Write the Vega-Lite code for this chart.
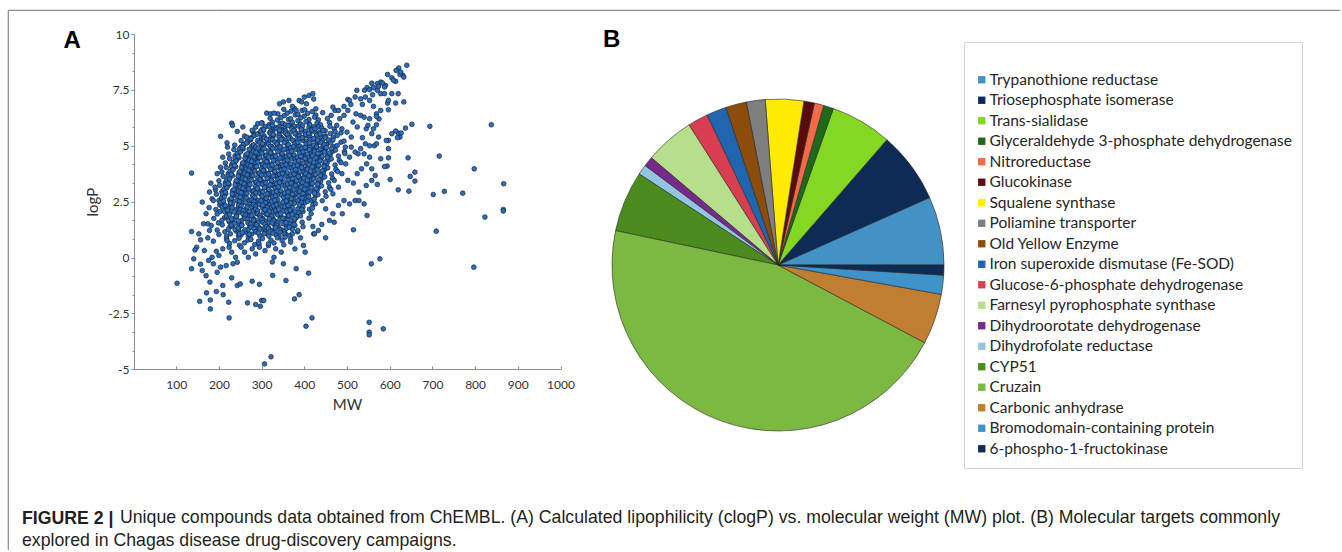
{
 "$schema": "https://vega.github.io/schema/vega-lite/v6.json",
 "padding": {"left": 7, "top": 9, "right": 0, "bottom": 0},
 "background": "white",
 "bounds": "flush",
 "spacing": 0,
 "title": {"text": "FIGURE 2 |", "subtitle": "explored in Chagas disease drug-discovery campaigns.", "orient": "bottom", "anchor": "start", "frame": "group", "offset": -27, "dx": 14, "font": "Liberation Sans", "fontSize": 17.7, "fontWeight": "bold", "color": "#231f20", "subtitleFont": "Liberation Sans", "subtitleFontSize": 17.7, "subtitleFontWeight": "normal", "subtitleColor": "#231f20", "subtitlePadding": 4.3, "baseline": "alphabetic", "limit": 1310},
 "config": {"view": {"stroke": null}, "font": "Lato"},
 "hconcat": [
  {
   "width": 208, "height": 540,
   "view": {"stroke": "#8a8a8a", "strokeWidth": 1.2, "strokeDash": [208, 748, 540]},
   "title": {"text": "Unique compounds data obtained from ChEMBL. (A) Calculated lipophilicity (clogP) vs. molecular weight (MW) plot. (B) Molecular targets commonly", "orient": "bottom", "anchor": "start", "frame": "group", "offset": -27, "dx": 112, "font": "Liberation Sans", "fontSize": 17.7, "fontWeight": "normal", "color": "#231f20", "baseline": "alphabetic", "limit": 1300},
   "data": {"values": [
{"MW":352,"logP":6.63},{"MW":369,"logP":6.55},{"MW":377,"logP":6.66},{"MW":395,"logP":6.58},{"MW":401,"logP":6.61},{"MW":419,"logP":6.53},{"MW":427,"logP":6.65},
{"MW":338,"logP":6.43},{"MW":353,"logP":6.35},{"MW":360,"logP":6.46},{"MW":379,"logP":6.38},{"MW":385,"logP":6.41},{"MW":400,"logP":6.33},{"MW":408,"logP":6.45},{"MW":427,"logP":6.37},{"MW":443,"logP":6.48},
{"MW":320,"logP":6.23},{"MW":337,"logP":6.15},{"MW":345,"logP":6.26},{"MW":363,"logP":6.18},{"MW":368,"logP":6.21},{"MW":385,"logP":6.13},{"MW":392,"logP":6.25},{"MW":411,"logP":6.17},{"MW":424,"logP":6.28},{"MW":433,"logP":6.16},{"MW":454,"logP":6.22},
{"MW":301,"logP":6.03},{"MW":318,"logP":5.95},{"MW":325,"logP":6.06},{"MW":344,"logP":5.98},{"MW":349,"logP":6.01},{"MW":365,"logP":5.93},{"MW":372,"logP":6.05},{"MW":391,"logP":5.97},{"MW":404,"logP":6.08},{"MW":412,"logP":5.96},{"MW":430,"logP":6.02},{"MW":438,"logP":5.94},{"MW":459,"logP":6.04},
{"MW":286,"logP":5.83},{"MW":302,"logP":5.75},{"MW":309,"logP":5.86},{"MW":327,"logP":5.78},{"MW":332,"logP":5.81},{"MW":348,"logP":5.73},{"MW":355,"logP":5.85},{"MW":373,"logP":5.77},{"MW":386,"logP":5.88},{"MW":394,"logP":5.76},{"MW":411,"logP":5.82},{"MW":417,"logP":5.74},{"MW":432,"logP":5.84},{"MW":441,"logP":5.79},{"MW":460,"logP":5.87},{"MW":470,"logP":5.75},
{"MW":280,"logP":5.63},{"MW":293,"logP":5.55},{"MW":303,"logP":5.66},{"MW":319,"logP":5.58},{"MW":326,"logP":5.61},{"MW":341,"logP":5.53},{"MW":351,"logP":5.65},{"MW":365,"logP":5.57},{"MW":377,"logP":5.68},{"MW":388,"logP":5.56},{"MW":401,"logP":5.62},{"MW":413,"logP":5.54},{"MW":424,"logP":5.64},{"MW":435,"logP":5.59},{"MW":449,"logP":5.67},{"MW":461,"logP":5.55},{"MW":472,"logP":5.63},{"MW":486,"logP":5.58},
{"MW":260,"logP":5.43},{"MW":275,"logP":5.35},{"MW":282,"logP":5.46},{"MW":300,"logP":5.38},{"MW":305,"logP":5.41},{"MW":321,"logP":5.33},{"MW":328,"logP":5.45},{"MW":346,"logP":5.37},{"MW":359,"logP":5.48},{"MW":367,"logP":5.36},{"MW":384,"logP":5.42},{"MW":390,"logP":5.34},{"MW":405,"logP":5.44},{"MW":413,"logP":5.39},{"MW":430,"logP":5.47},{"MW":440,"logP":5.35},{"MW":450,"logP":5.43},{"MW":468,"logP":5.38},{"MW":477,"logP":5.46},
{"MW":252,"logP":5.23},{"MW":267,"logP":5.15},{"MW":274,"logP":5.26},{"MW":292,"logP":5.18},{"MW":297,"logP":5.21},{"MW":313,"logP":5.13},{"MW":320,"logP":5.25},{"MW":338,"logP":5.17},{"MW":351,"logP":5.28},{"MW":359,"logP":5.16},{"MW":376,"logP":5.22},{"MW":382,"logP":5.14},{"MW":397,"logP":5.24},{"MW":405,"logP":5.19},{"MW":422,"logP":5.27},{"MW":432,"logP":5.15},{"MW":442,"logP":5.23},{"MW":459,"logP":5.18},{"MW":467,"logP":5.26},{"MW":486,"logP":5.16},{"MW":493,"logP":5.21},
{"MW":237,"logP":5.03},{"MW":252,"logP":4.95},{"MW":259,"logP":5.06},{"MW":277,"logP":4.98},{"MW":282,"logP":5.01},{"MW":298,"logP":4.93},{"MW":305,"logP":5.05},{"MW":323,"logP":4.97},{"MW":336,"logP":5.08},{"MW":344,"logP":4.96},{"MW":361,"logP":5.02},{"MW":367,"logP":4.94},{"MW":382,"logP":5.04},{"MW":390,"logP":4.99},{"MW":407,"logP":5.07},{"MW":417,"logP":4.95},{"MW":427,"logP":5.03},{"MW":444,"logP":4.98},{"MW":452,"logP":5.06},{"MW":470,"logP":4.96},{"MW":477,"logP":5.01},{"MW":496,"logP":4.94},
{"MW":235,"logP":4.83},{"MW":250,"logP":4.75},{"MW":257,"logP":4.86},{"MW":275,"logP":4.78},{"MW":280,"logP":4.81},{"MW":296,"logP":4.73},{"MW":303,"logP":4.85},{"MW":321,"logP":4.77},{"MW":334,"logP":4.88},{"MW":342,"logP":4.76},{"MW":359,"logP":4.82},{"MW":365,"logP":4.74},{"MW":380,"logP":4.84},{"MW":388,"logP":4.79},{"MW":405,"logP":4.87},{"MW":415,"logP":4.75},{"MW":425,"logP":4.83},{"MW":442,"logP":4.78},{"MW":450,"logP":4.86},{"MW":467,"logP":4.76},{"MW":473,"logP":4.81},{"MW":494,"logP":4.74},
{"MW":223,"logP":4.63},{"MW":238,"logP":4.55},{"MW":245,"logP":4.66},{"MW":263,"logP":4.58},{"MW":268,"logP":4.61},{"MW":284,"logP":4.53},{"MW":291,"logP":4.65},{"MW":309,"logP":4.57},{"MW":322,"logP":4.68},{"MW":330,"logP":4.56},{"MW":347,"logP":4.62},{"MW":353,"logP":4.54},{"MW":368,"logP":4.64},{"MW":376,"logP":4.59},{"MW":393,"logP":4.67},{"MW":403,"logP":4.55},{"MW":413,"logP":4.63},{"MW":430,"logP":4.58},{"MW":438,"logP":4.66},{"MW":455,"logP":4.56},{"MW":461,"logP":4.61},{"MW":480,"logP":4.54},{"MW":495,"logP":4.65},
{"MW":225,"logP":4.43},{"MW":240,"logP":4.35},{"MW":247,"logP":4.46},{"MW":265,"logP":4.38},{"MW":270,"logP":4.41},{"MW":286,"logP":4.33},{"MW":293,"logP":4.45},{"MW":311,"logP":4.37},{"MW":324,"logP":4.48},{"MW":332,"logP":4.36},{"MW":349,"logP":4.42},{"MW":355,"logP":4.34},{"MW":370,"logP":4.44},{"MW":378,"logP":4.39},{"MW":395,"logP":4.47},{"MW":405,"logP":4.35},{"MW":415,"logP":4.43},{"MW":432,"logP":4.38},{"MW":440,"logP":4.46},{"MW":457,"logP":4.36},{"MW":463,"logP":4.41},{"MW":482,"logP":4.34},
{"MW":215,"logP":4.23},{"MW":230,"logP":4.15},{"MW":237,"logP":4.26},{"MW":255,"logP":4.18},{"MW":260,"logP":4.21},{"MW":276,"logP":4.13},{"MW":283,"logP":4.25},{"MW":301,"logP":4.17},{"MW":314,"logP":4.28},{"MW":322,"logP":4.16},{"MW":339,"logP":4.22},{"MW":345,"logP":4.14},{"MW":360,"logP":4.24},{"MW":368,"logP":4.19},{"MW":385,"logP":4.27},{"MW":395,"logP":4.15},{"MW":405,"logP":4.23},{"MW":422,"logP":4.18},{"MW":430,"logP":4.26},{"MW":447,"logP":4.16},{"MW":453,"logP":4.21},{"MW":472,"logP":4.14},{"MW":486,"logP":4.25},
{"MW":217,"logP":4.03},{"MW":232,"logP":3.95},{"MW":239,"logP":4.06},{"MW":257,"logP":3.98},{"MW":262,"logP":4.01},{"MW":278,"logP":3.93},{"MW":285,"logP":4.05},{"MW":303,"logP":3.97},{"MW":316,"logP":4.08},{"MW":324,"logP":3.96},{"MW":341,"logP":4.02},{"MW":347,"logP":3.94},{"MW":362,"logP":4.04},{"MW":370,"logP":3.99},{"MW":387,"logP":4.07},{"MW":397,"logP":3.95},{"MW":407,"logP":4.03},{"MW":424,"logP":3.98},{"MW":432,"logP":4.06},{"MW":449,"logP":3.96},{"MW":455,"logP":4.01},{"MW":474,"logP":3.94},
{"MW":207,"logP":3.83},{"MW":222,"logP":3.75},{"MW":229,"logP":3.86},{"MW":247,"logP":3.78},{"MW":252,"logP":3.81},{"MW":268,"logP":3.73},{"MW":275,"logP":3.85},{"MW":293,"logP":3.77},{"MW":306,"logP":3.88},{"MW":314,"logP":3.76},{"MW":331,"logP":3.82},{"MW":337,"logP":3.74},{"MW":352,"logP":3.84},{"MW":360,"logP":3.79},{"MW":377,"logP":3.87},{"MW":387,"logP":3.75},{"MW":397,"logP":3.83},{"MW":414,"logP":3.78},{"MW":422,"logP":3.86},{"MW":439,"logP":3.76},{"MW":445,"logP":3.81},{"MW":464,"logP":3.74},{"MW":478,"logP":3.85},
{"MW":210,"logP":3.63},{"MW":225,"logP":3.55},{"MW":232,"logP":3.66},{"MW":250,"logP":3.58},{"MW":255,"logP":3.61},{"MW":271,"logP":3.53},{"MW":278,"logP":3.65},{"MW":296,"logP":3.57},{"MW":309,"logP":3.68},{"MW":317,"logP":3.56},{"MW":334,"logP":3.62},{"MW":340,"logP":3.54},{"MW":355,"logP":3.64},{"MW":363,"logP":3.59},{"MW":380,"logP":3.67},{"MW":390,"logP":3.55},{"MW":400,"logP":3.63},{"MW":417,"logP":3.58},{"MW":425,"logP":3.66},{"MW":442,"logP":3.56},{"MW":448,"logP":3.61},{"MW":466,"logP":3.54},
{"MW":200,"logP":3.43},{"MW":215,"logP":3.35},{"MW":222,"logP":3.46},{"MW":240,"logP":3.38},{"MW":245,"logP":3.41},{"MW":261,"logP":3.33},{"MW":268,"logP":3.45},{"MW":286,"logP":3.37},{"MW":299,"logP":3.48},{"MW":307,"logP":3.36},{"MW":324,"logP":3.42},{"MW":330,"logP":3.34},{"MW":345,"logP":3.44},{"MW":353,"logP":3.39},{"MW":370,"logP":3.47},{"MW":380,"logP":3.35},{"MW":390,"logP":3.43},{"MW":407,"logP":3.38},{"MW":415,"logP":3.46},{"MW":432,"logP":3.36},{"MW":438,"logP":3.41},{"MW":457,"logP":3.34},{"MW":470,"logP":3.45},
{"MW":202,"logP":3.23},{"MW":217,"logP":3.15},{"MW":224,"logP":3.26},{"MW":242,"logP":3.18},{"MW":247,"logP":3.21},{"MW":263,"logP":3.13},{"MW":270,"logP":3.25},{"MW":288,"logP":3.17},{"MW":301,"logP":3.28},{"MW":309,"logP":3.16},{"MW":326,"logP":3.22},{"MW":332,"logP":3.14},{"MW":347,"logP":3.24},{"MW":355,"logP":3.19},{"MW":372,"logP":3.27},{"MW":382,"logP":3.15},{"MW":392,"logP":3.23},{"MW":409,"logP":3.18},{"MW":417,"logP":3.26},{"MW":434,"logP":3.16},{"MW":440,"logP":3.21},{"MW":459,"logP":3.14},
{"MW":192,"logP":3.03},{"MW":207,"logP":2.95},{"MW":214,"logP":3.06},{"MW":232,"logP":2.98},{"MW":237,"logP":3.01},{"MW":253,"logP":2.93},{"MW":260,"logP":3.05},{"MW":278,"logP":2.97},{"MW":291,"logP":3.08},{"MW":299,"logP":2.96},{"MW":316,"logP":3.02},{"MW":322,"logP":2.94},{"MW":337,"logP":3.04},{"MW":345,"logP":2.99},{"MW":362,"logP":3.07},{"MW":372,"logP":2.95},{"MW":382,"logP":3.03},{"MW":399,"logP":2.98},{"MW":407,"logP":3.06},{"MW":424,"logP":2.96},{"MW":430,"logP":3.01},{"MW":449,"logP":2.94},{"MW":462,"logP":3.05},
{"MW":194,"logP":2.83},{"MW":209,"logP":2.75},{"MW":216,"logP":2.86},{"MW":234,"logP":2.78},{"MW":239,"logP":2.81},{"MW":255,"logP":2.73},{"MW":262,"logP":2.85},{"MW":280,"logP":2.77},{"MW":293,"logP":2.88},{"MW":301,"logP":2.76},{"MW":318,"logP":2.82},{"MW":324,"logP":2.74},{"MW":339,"logP":2.84},{"MW":347,"logP":2.79},{"MW":364,"logP":2.87},{"MW":374,"logP":2.75},{"MW":384,"logP":2.83},{"MW":401,"logP":2.78},{"MW":409,"logP":2.86},{"MW":426,"logP":2.76},{"MW":432,"logP":2.81},{"MW":451,"logP":2.74},
{"MW":184,"logP":2.63},{"MW":200,"logP":2.55},{"MW":207,"logP":2.66},{"MW":225,"logP":2.58},{"MW":230,"logP":2.61},{"MW":246,"logP":2.53},{"MW":253,"logP":2.65},{"MW":271,"logP":2.57},{"MW":284,"logP":2.68},{"MW":292,"logP":2.56},{"MW":309,"logP":2.62},{"MW":315,"logP":2.54},{"MW":330,"logP":2.64},{"MW":338,"logP":2.59},{"MW":355,"logP":2.67},{"MW":365,"logP":2.55},{"MW":375,"logP":2.63},{"MW":392,"logP":2.58},{"MW":400,"logP":2.66},{"MW":417,"logP":2.56},{"MW":423,"logP":2.61},{"MW":442,"logP":2.54},
{"MW":202,"logP":2.35},{"MW":209,"logP":2.46},{"MW":227,"logP":2.38},{"MW":232,"logP":2.41},{"MW":248,"logP":2.33},{"MW":255,"logP":2.45},{"MW":273,"logP":2.37},{"MW":286,"logP":2.48},{"MW":294,"logP":2.36},{"MW":311,"logP":2.42},{"MW":317,"logP":2.34},{"MW":332,"logP":2.44},{"MW":340,"logP":2.39},{"MW":357,"logP":2.47},{"MW":367,"logP":2.35},{"MW":377,"logP":2.43},{"MW":394,"logP":2.38},{"MW":402,"logP":2.46},{"MW":420,"logP":2.36},{"MW":426,"logP":2.41},
{"MW":177,"logP":2.23},{"MW":193,"logP":2.15},{"MW":218,"logP":2.18},{"MW":223,"logP":2.21},{"MW":239,"logP":2.13},{"MW":246,"logP":2.25},{"MW":264,"logP":2.17},{"MW":277,"logP":2.28},{"MW":285,"logP":2.16},{"MW":302,"logP":2.22},{"MW":308,"logP":2.14},{"MW":323,"logP":2.24},{"MW":331,"logP":2.19},{"MW":348,"logP":2.27},{"MW":358,"logP":2.15},{"MW":368,"logP":2.23},{"MW":385,"logP":2.18},{"MW":394,"logP":2.26},{"MW":412,"logP":2.16},{"MW":419,"logP":2.21},
{"MW":196,"logP":1.95},{"MW":203,"logP":2.06},{"MW":221,"logP":1.98},{"MW":226,"logP":2.01},{"MW":242,"logP":1.93},{"MW":249,"logP":2.05},{"MW":267,"logP":1.97},{"MW":280,"logP":2.08},{"MW":288,"logP":1.96},{"MW":305,"logP":2.02},{"MW":311,"logP":1.94},{"MW":326,"logP":2.04},{"MW":334,"logP":1.99},{"MW":351,"logP":2.07},{"MW":361,"logP":1.95},{"MW":371,"logP":2.03},{"MW":388,"logP":1.98},{"MW":397,"logP":2.06},{"MW":416,"logP":1.96},
{"MW":188,"logP":1.75},{"MW":213,"logP":1.78},{"MW":218,"logP":1.81},{"MW":234,"logP":1.73},{"MW":241,"logP":1.85},{"MW":259,"logP":1.77},{"MW":272,"logP":1.88},{"MW":280,"logP":1.76},{"MW":297,"logP":1.82},{"MW":303,"logP":1.74},{"MW":318,"logP":1.84},{"MW":326,"logP":1.79},{"MW":343,"logP":1.87},{"MW":353,"logP":1.75},{"MW":363,"logP":1.83},{"MW":381,"logP":1.78},{"MW":391,"logP":1.86},{"MW":411,"logP":1.76},
{"MW":199,"logP":1.55},{"MW":207,"logP":1.66},{"MW":225,"logP":1.58},{"MW":230,"logP":1.61},{"MW":246,"logP":1.53},{"MW":253,"logP":1.65},{"MW":271,"logP":1.57},{"MW":284,"logP":1.68},{"MW":292,"logP":1.56},{"MW":309,"logP":1.62},{"MW":315,"logP":1.54},{"MW":330,"logP":1.64},{"MW":338,"logP":1.59},{"MW":355,"logP":1.67},{"MW":365,"logP":1.55},{"MW":376,"logP":1.63},{"MW":395,"logP":1.58},
{"MW":182,"logP":1.43},{"MW":208,"logP":1.46},{"MW":226,"logP":1.38},{"MW":231,"logP":1.41},{"MW":247,"logP":1.33},{"MW":254,"logP":1.45},{"MW":272,"logP":1.37},{"MW":285,"logP":1.48},{"MW":293,"logP":1.36},{"MW":310,"logP":1.42},{"MW":316,"logP":1.34},{"MW":331,"logP":1.44},{"MW":339,"logP":1.39},{"MW":356,"logP":1.47},{"MW":366,"logP":1.35},{"MW":378,"logP":1.43},{"MW":397,"logP":1.38},
{"MW":196,"logP":1.23},{"MW":214,"logP":1.15},{"MW":222,"logP":1.26},{"MW":241,"logP":1.18},{"MW":246,"logP":1.21},{"MW":262,"logP":1.13},{"MW":269,"logP":1.25},{"MW":287,"logP":1.17},{"MW":300,"logP":1.28},{"MW":308,"logP":1.16},{"MW":325,"logP":1.22},{"MW":331,"logP":1.14},{"MW":346,"logP":1.24},{"MW":354,"logP":1.19},{"MW":372,"logP":1.27},{"MW":384,"logP":1.15},
{"MW":200,"logP":1.03},{"MW":218,"logP":0.95},{"MW":227,"logP":1.06},{"MW":246,"logP":0.98},{"MW":252,"logP":1.01},{"MW":269,"logP":0.93},{"MW":277,"logP":1.05},{"MW":296,"logP":0.97},{"MW":309,"logP":1.08},{"MW":317,"logP":0.96},{"MW":334,"logP":1.02},{"MW":341,"logP":0.94},{"MW":357,"logP":1.04},{"MW":367,"logP":0.99},
{"MW":218,"logP":0.83},{"MW":237,"logP":0.75},{"MW":247,"logP":0.86},{"MW":268,"logP":0.78},{"MW":275,"logP":0.81},{"MW":293,"logP":0.73},{"MW":302,"logP":0.85},{"MW":322,"logP":0.77},{"MW":337,"logP":0.88},{"MW":348,"logP":0.76},{"MW":368,"logP":0.82},
{"MW":225,"logP":0.63},{"MW":248,"logP":0.55},{"MW":260,"logP":0.66},{"MW":284,"logP":0.58},{"MW":294,"logP":0.61},{"MW":316,"logP":0.53},{"MW":329,"logP":0.65},{"MW":352,"logP":0.57},
{"MW":318,"logP":5.86},{"MW":325,"logP":5.92},{"MW":341,"logP":5.84},{"MW":356,"logP":5.95},{"MW":362,"logP":5.9},{"MW":376,"logP":5.87},{"MW":391,"logP":5.97},{"MW":396,"logP":5.89},{"MW":413,"logP":5.94},{"MW":423,"logP":5.85},
{"MW":298,"logP":5.66},{"MW":305,"logP":5.72},{"MW":321,"logP":5.64},{"MW":336,"logP":5.75},{"MW":342,"logP":5.7},{"MW":356,"logP":5.67},{"MW":371,"logP":5.77},{"MW":376,"logP":5.69},{"MW":393,"logP":5.74},{"MW":403,"logP":5.65},{"MW":418,"logP":5.71},{"MW":425,"logP":5.76},{"MW":444,"logP":5.68},
{"MW":283,"logP":5.46},{"MW":290,"logP":5.52},{"MW":306,"logP":5.44},{"MW":321,"logP":5.55},{"MW":327,"logP":5.5},{"MW":341,"logP":5.47},{"MW":356,"logP":5.57},{"MW":361,"logP":5.49},{"MW":378,"logP":5.54},{"MW":388,"logP":5.45},{"MW":403,"logP":5.51},{"MW":410,"logP":5.56},{"MW":429,"logP":5.48},{"MW":437,"logP":5.53},{"MW":447,"logP":5.43},
{"MW":268,"logP":5.26},{"MW":275,"logP":5.32},{"MW":291,"logP":5.24},{"MW":306,"logP":5.35},{"MW":312,"logP":5.3},{"MW":326,"logP":5.27},{"MW":341,"logP":5.37},{"MW":346,"logP":5.29},{"MW":363,"logP":5.34},{"MW":373,"logP":5.25},{"MW":388,"logP":5.31},{"MW":395,"logP":5.36},{"MW":414,"logP":5.28},{"MW":422,"logP":5.33},{"MW":432,"logP":5.23},{"MW":449,"logP":5.35},{"MW":457,"logP":5.26},
{"MW":258,"logP":5.06},{"MW":265,"logP":5.12},{"MW":281,"logP":5.04},{"MW":296,"logP":5.15},{"MW":302,"logP":5.1},{"MW":316,"logP":5.07},{"MW":331,"logP":5.17},{"MW":336,"logP":5.09},{"MW":353,"logP":5.14},{"MW":363,"logP":5.05},{"MW":378,"logP":5.11},{"MW":385,"logP":5.16},{"MW":404,"logP":5.08},{"MW":412,"logP":5.13},{"MW":422,"logP":5.03},{"MW":439,"logP":5.15},{"MW":447,"logP":5.06},{"MW":462,"logP":5.12},
{"MW":248,"logP":4.86},{"MW":255,"logP":4.92},{"MW":271,"logP":4.84},{"MW":286,"logP":4.95},{"MW":292,"logP":4.9},{"MW":306,"logP":4.87},{"MW":321,"logP":4.97},{"MW":326,"logP":4.89},{"MW":343,"logP":4.94},{"MW":353,"logP":4.85},{"MW":368,"logP":4.91},{"MW":375,"logP":4.96},{"MW":394,"logP":4.88},{"MW":402,"logP":4.93},{"MW":412,"logP":4.83},{"MW":429,"logP":4.95},{"MW":437,"logP":4.86},{"MW":452,"logP":4.92},{"MW":464,"logP":4.88},
{"MW":243,"logP":4.66},{"MW":250,"logP":4.72},{"MW":266,"logP":4.64},{"MW":281,"logP":4.75},{"MW":287,"logP":4.7},{"MW":301,"logP":4.67},{"MW":316,"logP":4.77},{"MW":321,"logP":4.69},{"MW":338,"logP":4.74},{"MW":348,"logP":4.65},{"MW":363,"logP":4.71},{"MW":370,"logP":4.76},{"MW":389,"logP":4.68},{"MW":397,"logP":4.73},{"MW":407,"logP":4.63},{"MW":424,"logP":4.75},{"MW":432,"logP":4.66},{"MW":447,"logP":4.72},{"MW":459,"logP":4.68},
{"MW":238,"logP":4.46},{"MW":245,"logP":4.52},{"MW":261,"logP":4.44},{"MW":276,"logP":4.55},{"MW":282,"logP":4.5},{"MW":296,"logP":4.47},{"MW":311,"logP":4.57},{"MW":316,"logP":4.49},{"MW":333,"logP":4.54},{"MW":343,"logP":4.45},{"MW":358,"logP":4.51},{"MW":365,"logP":4.56},{"MW":384,"logP":4.48},{"MW":392,"logP":4.53},{"MW":402,"logP":4.43},{"MW":419,"logP":4.55},{"MW":427,"logP":4.46},{"MW":442,"logP":4.52},{"MW":454,"logP":4.48},
{"MW":233,"logP":4.26},{"MW":240,"logP":4.32},{"MW":256,"logP":4.24},{"MW":271,"logP":4.35},{"MW":277,"logP":4.3},{"MW":291,"logP":4.27},{"MW":306,"logP":4.37},{"MW":311,"logP":4.29},{"MW":328,"logP":4.34},{"MW":338,"logP":4.25},{"MW":353,"logP":4.31},{"MW":360,"logP":4.36},{"MW":379,"logP":4.28},{"MW":387,"logP":4.33},{"MW":397,"logP":4.23},{"MW":414,"logP":4.35},{"MW":422,"logP":4.26},{"MW":437,"logP":4.32},{"MW":449,"logP":4.28},
{"MW":230,"logP":4.06},{"MW":237,"logP":4.12},{"MW":253,"logP":4.04},{"MW":268,"logP":4.15},{"MW":274,"logP":4.1},{"MW":288,"logP":4.07},{"MW":303,"logP":4.17},{"MW":308,"logP":4.09},{"MW":325,"logP":4.14},{"MW":335,"logP":4.05},{"MW":350,"logP":4.11},{"MW":357,"logP":4.16},{"MW":376,"logP":4.08},{"MW":384,"logP":4.13},{"MW":394,"logP":4.03},{"MW":411,"logP":4.15},{"MW":419,"logP":4.06},{"MW":434,"logP":4.12},{"MW":446,"logP":4.08},
{"MW":226,"logP":3.86},{"MW":233,"logP":3.92},{"MW":249,"logP":3.84},{"MW":264,"logP":3.95},{"MW":270,"logP":3.9},{"MW":284,"logP":3.87},{"MW":299,"logP":3.97},{"MW":304,"logP":3.89},{"MW":321,"logP":3.94},{"MW":331,"logP":3.85},{"MW":346,"logP":3.91},{"MW":353,"logP":3.96},{"MW":372,"logP":3.88},{"MW":380,"logP":3.93},{"MW":390,"logP":3.83},{"MW":407,"logP":3.95},{"MW":415,"logP":3.86},{"MW":430,"logP":3.92},{"MW":442,"logP":3.88},
{"MW":222,"logP":3.66},{"MW":229,"logP":3.72},{"MW":245,"logP":3.64},{"MW":260,"logP":3.75},{"MW":266,"logP":3.7},{"MW":280,"logP":3.67},{"MW":295,"logP":3.77},{"MW":300,"logP":3.69},{"MW":317,"logP":3.74},{"MW":327,"logP":3.65},{"MW":342,"logP":3.71},{"MW":349,"logP":3.76},{"MW":368,"logP":3.68},{"MW":376,"logP":3.73},{"MW":386,"logP":3.63},{"MW":403,"logP":3.75},{"MW":411,"logP":3.66},{"MW":426,"logP":3.72},{"MW":438,"logP":3.68},
{"MW":218,"logP":3.46},{"MW":225,"logP":3.52},{"MW":241,"logP":3.44},{"MW":256,"logP":3.55},{"MW":262,"logP":3.5},{"MW":276,"logP":3.47},{"MW":291,"logP":3.57},{"MW":296,"logP":3.49},{"MW":313,"logP":3.54},{"MW":323,"logP":3.45},{"MW":338,"logP":3.51},{"MW":345,"logP":3.56},{"MW":364,"logP":3.48},{"MW":372,"logP":3.53},{"MW":382,"logP":3.43},{"MW":399,"logP":3.55},{"MW":407,"logP":3.46},{"MW":422,"logP":3.52},{"MW":434,"logP":3.48},
{"MW":215,"logP":3.26},{"MW":222,"logP":3.32},{"MW":238,"logP":3.24},{"MW":253,"logP":3.35},{"MW":259,"logP":3.3},{"MW":273,"logP":3.27},{"MW":288,"logP":3.37},{"MW":293,"logP":3.29},{"MW":310,"logP":3.34},{"MW":320,"logP":3.25},{"MW":335,"logP":3.31},{"MW":342,"logP":3.36},{"MW":361,"logP":3.28},{"MW":369,"logP":3.33},{"MW":379,"logP":3.23},{"MW":396,"logP":3.35},{"MW":404,"logP":3.26},{"MW":419,"logP":3.32},{"MW":431,"logP":3.28},
{"MW":212,"logP":3.06},{"MW":219,"logP":3.12},{"MW":235,"logP":3.04},{"MW":250,"logP":3.15},{"MW":256,"logP":3.1},{"MW":270,"logP":3.07},{"MW":285,"logP":3.17},{"MW":290,"logP":3.09},{"MW":307,"logP":3.14},{"MW":317,"logP":3.05},{"MW":332,"logP":3.11},{"MW":339,"logP":3.16},{"MW":358,"logP":3.08},{"MW":366,"logP":3.13},{"MW":376,"logP":3.03},{"MW":393,"logP":3.15},{"MW":401,"logP":3.06},{"MW":416,"logP":3.12},{"MW":428,"logP":3.08},
{"MW":208,"logP":2.86},{"MW":215,"logP":2.92},{"MW":231,"logP":2.84},{"MW":246,"logP":2.95},{"MW":252,"logP":2.9},{"MW":266,"logP":2.87},{"MW":281,"logP":2.97},{"MW":286,"logP":2.89},{"MW":303,"logP":2.94},{"MW":313,"logP":2.85},{"MW":328,"logP":2.91},{"MW":335,"logP":2.96},{"MW":354,"logP":2.88},{"MW":362,"logP":2.93},{"MW":372,"logP":2.83},{"MW":389,"logP":2.95},{"MW":397,"logP":2.86},{"MW":412,"logP":2.92},{"MW":424,"logP":2.88},
{"MW":206,"logP":2.66},{"MW":213,"logP":2.72},{"MW":229,"logP":2.64},{"MW":244,"logP":2.75},{"MW":250,"logP":2.7},{"MW":264,"logP":2.67},{"MW":279,"logP":2.77},{"MW":284,"logP":2.69},{"MW":301,"logP":2.74},{"MW":311,"logP":2.65},{"MW":326,"logP":2.71},{"MW":333,"logP":2.76},{"MW":352,"logP":2.68},{"MW":360,"logP":2.73},{"MW":370,"logP":2.63},{"MW":387,"logP":2.75},{"MW":395,"logP":2.66},{"MW":410,"logP":2.72},
{"MW":204,"logP":2.46},{"MW":211,"logP":2.52},{"MW":227,"logP":2.44},{"MW":242,"logP":2.55},{"MW":248,"logP":2.5},{"MW":262,"logP":2.47},{"MW":277,"logP":2.57},{"MW":282,"logP":2.49},{"MW":299,"logP":2.54},{"MW":309,"logP":2.45},{"MW":324,"logP":2.51},{"MW":331,"logP":2.56},{"MW":350,"logP":2.48},{"MW":358,"logP":2.53},{"MW":368,"logP":2.43},{"MW":385,"logP":2.55},{"MW":393,"logP":2.46},{"MW":408,"logP":2.52},
{"MW":208,"logP":2.26},{"MW":215,"logP":2.32},{"MW":231,"logP":2.24},{"MW":246,"logP":2.35},{"MW":252,"logP":2.3},{"MW":266,"logP":2.27},{"MW":281,"logP":2.37},{"MW":286,"logP":2.29},{"MW":303,"logP":2.34},{"MW":313,"logP":2.25},{"MW":328,"logP":2.31},{"MW":335,"logP":2.36},{"MW":354,"logP":2.28},{"MW":362,"logP":2.33},{"MW":372,"logP":2.23},{"MW":389,"logP":2.35},{"MW":397,"logP":2.26},
{"MW":213,"logP":2.06},{"MW":220,"logP":2.12},{"MW":236,"logP":2.04},{"MW":251,"logP":2.15},{"MW":257,"logP":2.1},{"MW":271,"logP":2.07},{"MW":286,"logP":2.17},{"MW":291,"logP":2.09},{"MW":308,"logP":2.14},{"MW":318,"logP":2.05},{"MW":333,"logP":2.11},{"MW":340,"logP":2.16},{"MW":359,"logP":2.08},{"MW":367,"logP":2.13},{"MW":377,"logP":2.03},{"MW":394,"logP":2.15},
{"MW":218,"logP":1.86},{"MW":225,"logP":1.92},{"MW":241,"logP":1.84},{"MW":256,"logP":1.95},{"MW":262,"logP":1.9},{"MW":276,"logP":1.87},{"MW":291,"logP":1.97},{"MW":296,"logP":1.89},{"MW":313,"logP":1.94},{"MW":323,"logP":1.85},{"MW":338,"logP":1.91},{"MW":345,"logP":1.96},{"MW":364,"logP":1.88},{"MW":372,"logP":1.93},{"MW":382,"logP":1.83},
{"MW":223,"logP":1.66},{"MW":230,"logP":1.72},{"MW":246,"logP":1.64},{"MW":261,"logP":1.75},{"MW":267,"logP":1.7},{"MW":281,"logP":1.67},{"MW":296,"logP":1.77},{"MW":301,"logP":1.69},{"MW":318,"logP":1.74},{"MW":328,"logP":1.65},{"MW":343,"logP":1.71},{"MW":350,"logP":1.76},{"MW":369,"logP":1.68},{"MW":377,"logP":1.73},
{"MW":230,"logP":1.46},{"MW":237,"logP":1.52},{"MW":253,"logP":1.44},{"MW":268,"logP":1.55},{"MW":274,"logP":1.5},{"MW":288,"logP":1.47},{"MW":303,"logP":1.57},{"MW":308,"logP":1.49},{"MW":325,"logP":1.54},{"MW":335,"logP":1.45},{"MW":350,"logP":1.51},{"MW":357,"logP":1.56},{"MW":376,"logP":1.48},
{"MW":238,"logP":1.26},{"MW":245,"logP":1.32},{"MW":261,"logP":1.24},{"MW":276,"logP":1.35},{"MW":282,"logP":1.3},{"MW":296,"logP":1.27},{"MW":311,"logP":1.37},{"MW":316,"logP":1.29},{"MW":333,"logP":1.34},{"MW":343,"logP":1.25},{"MW":358,"logP":1.31},{"MW":365,"logP":1.36},
{"MW":248,"logP":1.06},{"MW":255,"logP":1.12},{"MW":271,"logP":1.04},{"MW":286,"logP":1.15},{"MW":292,"logP":1.1},{"MW":306,"logP":1.07},{"MW":321,"logP":1.17},{"MW":326,"logP":1.09},{"MW":343,"logP":1.14},{"MW":353,"logP":1.05},
{"MW":102,"logP":-1.15},{"MW":136,"logP":3.78},{"MW":136,"logP":1.16},{"MW":136,"logP":-0.5},{"MW":141,"logP":-0.06},{"MW":155,"logP":-1.96},{"MW":157,"logP":-0.3},{"MW":171,"logP":-1.58},{"MW":180,"logP":-1.9},{"MW":180,"logP":-2.3},{"MW":179,"logP":-1.1},{"MW":194,"logP":-1.52},{"MW":209,"logP":-1.25},{"MW":210,"logP":-1.66},{"MW":223,"logP":-2.0},{"MW":224,"logP":-2.7},{"MW":230,"logP":-0.91},{"MW":243,"logP":-1.25},{"MW":250,"logP":-1.18},{"MW":267,"logP":-2.03},{"MW":278,"logP":-1.06},{"MW":286,"logP":-2.1},{"MW":295,"logP":-1.2},{"MW":297,"logP":-2.18},{"MW":300,"logP":-1.92},{"MW":305,"logP":-1.92},{"MW":307,"logP":-4.76},{"MW":322,"logP":-4.44},{"MW":325,"logP":-0.2},{"MW":326,"logP":-0.8},{"MW":351,"logP":-0.28},{"MW":357,"logP":-1.03},{"MW":377,"logP":-1.85},{"MW":388,"logP":-1.66},{"MW":381,"logP":-0.5},{"MW":398,"logP":0.54},{"MW":402,"logP":0.24},{"MW":410,"logP":-0.7},{"MW":404,"logP":-3.07},{"MW":418,"logP":-2.7},{"MW":422,"logP":1.06},{"MW":450,"logP":0.88},{"MW":470,"logP":1.58},{"MW":489,"logP":1.96},{"MW":515,"logP":1.24},{"MW":547,"logP":1.88},{"MW":552,"logP":-2.9},{"MW":552,"logP":-3.34},{"MW":552,"logP":-3.46},{"MW":557,"logP":-0.28},{"MW":577,"logP":-0.06},{"MW":585,"logP":-3.19},
{"MW":694,"logP":5.87},{"MW":702,"logP":2.82},{"MW":709,"logP":1.18},{"MW":716,"logP":4.54},{"MW":728,"logP":2.96},{"MW":771,"logP":2.88},{"MW":798,"logP":3.97},{"MW":797,"logP":-0.43},{"MW":823,"logP":1.81},{"MW":838,"logP":5.94},{"MW":867,"logP":3.3},{"MW":866,"logP":2.15},{"MW":866,"logP":2.08},
{"MW":601,"logP":3.49},{"MW":620,"logP":3.03},{"MW":645,"logP":2.97},{"MW":643,"logP":4.46},{"MW":648,"logP":3.63},{"MW":659,"logP":3.82},{"MW":659,"logP":3.42},{"MW":594,"logP":4.09},{"MW":597,"logP":4.46},{"MW":579,"logP":4.42},{"MW":588,"logP":4.07},{"MW":597,"logP":4.87},{"MW":597,"logP":5.24},
{"MW":640,"logP":8.6},{"MW":621,"logP":8.48},{"MW":631,"logP":8.15},{"MW":624,"logP":8.19},{"MW":614,"logP":7.88},{"MW":620,"logP":7.33},{"MW":595,"logP":8.19},{"MW":590,"logP":7.7},{"MW":579,"logP":7.85},{"MW":571,"logP":7.78},{"MW":558,"logP":7.8},{"MW":547,"logP":7.6},{"MW":541,"logP":7.48},{"MW":523,"logP":7.48},{"MW":543,"logP":7.18},{"MW":560,"logP":7.28},{"MW":571,"logP":7.48},{"MW":579,"logP":7.33},{"MW":595,"logP":6.91},{"MW":633,"logP":6.96},{"MW":597,"logP":6.61},{"MW":569,"logP":6.43},{"MW":575,"logP":6.2},{"MW":569,"logP":5.94},{"MW":562,"logP":5.76},{"MW":545,"logP":5.76},{"MW":536,"logP":5.36},{"MW":553,"logP":5.0},{"MW":543,"logP":5.09},{"MW":532,"logP":4.87},{"MW":526,"logP":4.64},{"MW":564,"logP":5.0},{"MW":624,"logP":5.39},{"MW":620,"logP":5.57},{"MW":637,"logP":5.79},{"MW":652,"logP":5.96},
{"MW":502,"logP":7.07},{"MW":509,"logP":6.85},{"MW":502,"logP":6.58},{"MW":493,"logP":6.36},{"MW":483,"logP":6.21},{"MW":472,"logP":6.58},{"MW":463,"logP":6.36},{"MW":476,"logP":5.91},{"MW":488,"logP":5.76},{"MW":500,"logP":5.61},{"MW":510,"logP":5.39},{"MW":514,"logP":6.06},{"MW":521,"logP":6.43},{"MW":524,"logP":5.84},{"MW":532,"logP":6.36},{"MW":536,"logP":6.85},{"MW":510,"logP":4.94},{"MW":519,"logP":4.72},{"MW":506,"logP":4.49},{"MW":497,"logP":4.19},{"MW":488,"logP":3.75},{"MW":502,"logP":3.45},{"MW":515,"logP":3.33},{"MW":524,"logP":3.75},{"MW":534,"logP":3.97},{"MW":528,"logP":2.93},{"MW":519,"logP":2.55},{"MW":506,"logP":2.4},{"MW":493,"logP":2.55},{"MW":480,"logP":2.33},{"MW":467,"logP":1.96},{"MW":459,"logP":1.66},{"MW":441,"logP":1.48},{"MW":433,"logP":1.21},{"MW":420,"logP":1.39},{"MW":424,"logP":1.06},{"MW":450,"logP":2.18},{"MW":467,"logP":2.85},{"MW":480,"logP":3.15},{"MW":540,"logP":4.64},{"MW":546,"logP":4.19},{"MW":553,"logP":4.49},{"MW":569,"logP":5.09},{"MW":558,"logP":3.97},{"MW":566,"logP":3.67},{"MW":571,"logP":3.27},{"MW":558,"logP":3.45},{"MW":545,"logP":3.22},{"MW":528,"logP":2.55},{"MW":540,"logP":2.4},
{"MW":467,"logP":6.73},{"MW":480,"logP":6.58},{"MW":493,"logP":6.76},{"MW":506,"logP":7.03},{"MW":519,"logP":7.18},{"MW":532,"logP":7.1},{"MW":553,"logP":7.51},{"MW":562,"logP":7.6},{"MW":574,"logP":7.66},{"MW":583,"logP":7.81},{"MW":588,"logP":7.63},{"MW":605,"logP":8.04},{"MW":609,"logP":7.93},{"MW":615,"logP":8.37},{"MW":626,"logP":8.3},{"MW":633,"logP":8.07},{"MW":588,"logP":7.33},{"MW":605,"logP":7.33},{"MW":597,"logP":7.03},{"MW":614,"logP":6.91},{"MW":553,"logP":7.03},{"MW":562,"logP":6.76},{"MW":579,"logP":6.58},{"MW":569,"logP":6.31},{"MW":553,"logP":6.21},{"MW":540,"logP":6.28},{"MW":549,"logP":5.91},{"MW":558,"logP":5.54},{"MW":574,"logP":5.39},{"MW":592,"logP":5.24},{"MW":605,"logP":5.54},{"MW":614,"logP":5.66},{"MW":627,"logP":5.57},{"MW":618,"logP":5.36},
{"MW":161,"logP":2.48},{"MW":170,"logP":1.96},{"MW":174,"logP":1.51},{"MW":164,"logP":1.51},{"MW":153,"logP":1.06},{"MW":157,"logP":0.79},{"MW":148,"logP":0.46},{"MW":144,"logP":0.34},{"MW":166,"logP":0.31},{"MW":174,"logP":0.88},{"MW":178,"logP":1.21},{"MW":187,"logP":0.73},{"MW":194,"logP":0.28},{"MW":184,"logP":0.01},{"MW":176,"logP":-0.13},{"MW":200,"logP":0.09},{"MW":209,"logP":0.39},{"MW":219,"logP":0.76},{"MW":224,"logP":0.46},{"MW":230,"logP":0.24},{"MW":239,"logP":0.01},{"MW":243,"logP":-0.21},{"MW":233,"logP":-0.28},{"MW":217,"logP":-0.36},{"MW":204,"logP":-0.43},{"MW":196,"logP":-0.66},{"MW":187,"logP":-0.28},{"MW":161,"logP":-0.58},{"MW":170,"logP":-0.81},{"MW":252,"logP":0.46},{"MW":260,"logP":0.24},{"MW":269,"logP":0.01},{"MW":286,"logP":0.16},{"MW":295,"logP":0.46},{"MW":278,"logP":0.39},{"MW":308,"logP":0.31},{"MW":316,"logP":0.61},{"MW":333,"logP":0.39},{"MW":329,"logP":0.01},{"MW":346,"logP":0.24},{"MW":355,"logP":0.91},{"MW":368,"logP":0.69},{"MW":372,"logP":1.06},{"MW":385,"logP":1.21},{"MW":391,"logP":0.88},{"MW":378,"logP":0.39},{"MW":187,"logP":2.55},{"MW":178,"logP":2.93},{"MW":191,"logP":3.15},{"MW":181,"logP":3.33},{"MW":196,"logP":3.75},{"MW":204,"logP":4.04},{"MW":209,"logP":4.49},{"MW":204,"logP":5.42},{"MW":219,"logP":5.13},{"MW":220,"logP":4.94},{"MW":230,"logP":6.01},{"MW":232,"logP":5.91},{"MW":243,"logP":5.64},{"MW":256,"logP":5.84},{"MW":265,"logP":5.39},{"MW":278,"logP":5.69},{"MW":291,"logP":5.99},{"MW":300,"logP":6.01},{"MW":312,"logP":6.46},{"MW":321,"logP":6.43},{"MW":329,"logP":6.46},{"MW":342,"logP":6.88},{"MW":351,"logP":6.96},{"MW":364,"logP":7.03},{"MW":372,"logP":6.76},{"MW":388,"logP":7.03},{"MW":394,"logP":6.96},{"MW":400,"logP":7.18},{"MW":411,"logP":7.25},{"MW":420,"logP":7.33},{"MW":422,"logP":7.09},{"MW":405,"logP":6.88},{"MW":381,"logP":6.58}
   ]},
   "layer": [
    {
     "mark": {"type": "circle", "size": 22, "fill": "#2a6fc0", "stroke": "#17243a", "strokeWidth": 0.7, "opacity": 1},
     "encoding": {
      "x": {"field": "MW", "type": "quantitative",
       "scale": {"domain": [0, 1000], "range": [125.5, 552.5], "nice": false, "zero": false},
       "axis": {"orient": "bottom", "offset": -181, "values": [100, 200, 300, 400, 500, 600, 700, 800, 900, 1000], "format": "d", "title": "MW", "grid": false, "domainColor": "#8c8c8c", "domainWidth": 1, "ticks": true, "tickSize": -3, "tickColor": "#8c8c8c", "labelPadding": 13, "labelFont": "Lato", "labelFontSize": 12, "labelColor": "#333333", "labelFlush": false, "labelOverlap": false, "titleFont": "Lato", "titleFontSize": 15, "titleFontWeight": "normal", "titleColor": "#333333", "titlePadding": 7}},
      "y": {"field": "logP", "type": "quantitative",
       "scale": {"domain": [-5, 10], "range": [359.3, 24], "nice": false, "zero": false},
       "axis": {"orient": "left", "offset": -126, "values": [-5, -2.5, 0, 2.5, 5, 7.5, 10], "format": ".2~f", "labelExpr": "replace(datum.label, '−', '-')", "title": "logP", "grid": false, "domainColor": "#8c8c8c", "domainWidth": 1, "ticks": true, "tickSize": 3, "tickColor": "#8c8c8c", "labelPadding": 2, "labelFont": "Lato", "labelFontSize": 12, "labelColor": "#333333", "labelFlush": false, "labelOverlap": false, "titleFont": "Lato", "titleFontSize": 15, "titleFontWeight": "normal", "titleColor": "#333333", "titlePadding": 7}}
     }
    },
    {
     "mark": {"type": "circle", "size": 1, "opacity": 0},
     "encoding": {
      "x": {"field": "MW", "type": "quantitative", "axis": null},
      "y": {"field": "logP", "type": "quantitative",
       "axis": {"orient": "left", "offset": -126, "values": [-4.1667, -3.3333, -1.6667, -0.8333, 0.8333, 1.6667, 3.3333, 4.1667, 5.8333, 6.6667, 8.3333, 9.1667], "labels": false, "domain": false, "grid": false, "ticks": true, "tickSize": 2, "tickColor": "#8c8c8c", "title": "A", "titleFont": "Liberation Sans", "titleFontSize": 24, "titleFontWeight": "bold", "titleColor": "#000000", "titleAngle": 0, "titleAlign": "left", "titleBaseline": "alphabetic", "titleX": -71, "titleY": 37}}
     }
    }
   ],
   "resolve": {"axis": {"x": "independent", "y": "independent"}}
  },
  {
   "width": 1124, "height": 510,
   "view": {"stroke": "#8a8a8a", "strokeWidth": 1.2, "strokeDash": [1124, 2200]},
   "title": {"text": "B", "orient": "top", "anchor": "start", "frame": "group", "offset": -61, "dx": 387, "font": "Liberation Sans", "fontSize": 24, "fontWeight": "bold", "color": "#000000", "baseline": "alphabetic"},
   "data": {"values": [
    {"target": "Trypanothione reductase", "share": 24, "rank": 1},
    {"target": "Triosephosphate isomerase", "share": 25, "rank": 2},
    {"target": "Trans-sialidase", "share": 21.5, "rank": 3},
    {"target": "Glyceraldehyde 3-phosphate dehydrogenase", "share": 3.5, "rank": 4},
    {"target": "Nitroreductase", "share": 3.3, "rank": 5},
    {"target": "Glucokinase", "share": 3.7, "rank": 6},
    {"target": "Squalene synthase", "share": 13.4, "rank": 7},
    {"target": "Poliamine transporter", "share": 6.6, "rank": 8},
    {"target": "Old Yellow Enzyme", "share": 7.3, "rank": 9},
    {"target": "Iron superoxide dismutase (Fe-SOD)", "share": 7, "rank": 10},
    {"target": "Glucose-6-phosphate dehydrogenase", "share": 7.1, "rank": 11},
    {"target": "Farnesyl pyrophosphate synthase", "share": 17.3, "rank": 12},
    {"target": "Dihydroorotate dehydrogenase", "share": 3.5, "rank": 13},
    {"target": "Dihydrofolate reductase", "share": 3.5, "rank": 14},
    {"target": "CYP51", "share": 21.3, "rank": 15},
    {"target": "Cruzain", "share": 164, "rank": 16},
    {"target": "Carbonic anhydrase", "share": 17.7, "rank": 17},
    {"target": "Bromodomain-containing protein", "share": 6.7, "rank": 18},
    {"target": "6-phospho-1-fructokinase", "share": 3.5, "rank": 19}
   ]},
   "mark": {"type": "arc", "outerRadius": 166, "stroke": "#262626", "strokeWidth": 0.6},
   "encoding": {
    "theta": {"field": "share", "type": "quantitative", "stack": true, "scale": {"range": [1.5708, -4.7124]}},
    "order": {"field": "rank", "type": "quantitative"},
    "color": {"field": "target", "type": "nominal",
     "scale": {"domain": ["Trypanothione reductase", "Triosephosphate isomerase", "Trans-sialidase", "Glyceraldehyde 3-phosphate dehydrogenase", "Nitroreductase", "Glucokinase", "Squalene synthase", "Poliamine transporter", "Old Yellow Enzyme", "Iron superoxide dismutase (Fe-SOD)", "Glucose-6-phosphate dehydrogenase", "Farnesyl pyrophosphate synthase", "Dihydroorotate dehydrogenase", "Dihydrofolate reductase", "CYP51", "Cruzain", "Carbonic anhydrase", "Bromodomain-containing protein", "6-phospho-1-fructokinase"],
      "range": ["#4292c6", "#0d2b55", "#84d822", "#1e6a1a", "#f26b46", "#5a0b0b", "#ffeb00", "#7f7f7f", "#8b4c0c", "#1f65b0", "#d83e50", "#b6df8b", "#772a8b", "#94c5e0", "#4c8b1d", "#7cb940", "#c07e31", "#3f93c9", "#0d2b55"]},
     "legend": {"orient": "none", "legendX": 956, "legendY": 32, "title": " ", "titleFontSize": 12, "titlePadding": 8, "symbolType": "square", "symbolSize": 54, "symbolStrokeWidth": 0, "labelFont": "Lato", "labelFontSize": 15.5, "labelColor": "#262626", "labelLimit": 400, "labelOffset": 0, "rowPadding": 3.5, "padding": 10, "strokeColor": "#d4d4d4", "fillColor": "#ffffff"}}
   }
  }
 ]
}
